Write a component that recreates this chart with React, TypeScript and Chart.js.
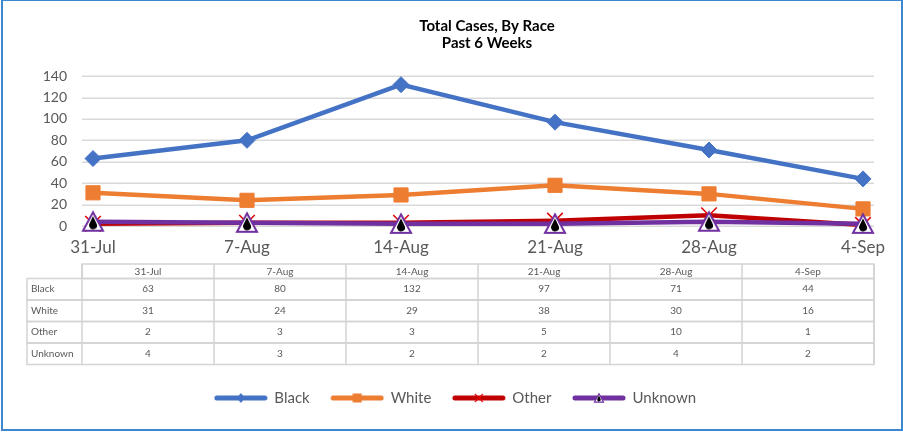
import React, { useEffect, useRef } from "react";
import { Chart, registerables } from "chart.js";

Chart.register(...registerables);

// ---- data ----
const categories = ["31-Jul", "7-Aug", "14-Aug", "21-Aug", "28-Aug", "4-Sep"];
const blackValues = [63, 80, 132, 97, 71, 44];
const whiteValues = [31, 24, 29, 38, 30, 16];
const otherValues = [2, 3, 3, 5, 10, 1];
const unknownValues = [4, 3, 2, 2, 4, 2];
const seriesNames = ["Black", "White", "Other", "Unknown"];
const titleLines = ["Total Cases, By Race", "Past 6 Weeks"];
const yMin = 0;
const yMax = 140;
const yStep = 20;

// ---- styles ----
const BLUE = "#4472C4";
const ORANGE = "#ED7D31";
const RED = "#C00000";
const PURPLE = "#7030A0";
const GREY_TEXT = "#595959";
const GRID = "#D9D9D9";
const FRAME = "#3C87D0";
const FONT = "Lato";
const EXT = 11;

function makeCanvas(w: number, h: number, draw: (ctx: CanvasRenderingContext2D) => void) {
  const c = document.createElement("canvas");
  c.width = w;
  c.height = h;
  const ctx = c.getContext("2d");
  if (ctx) draw(ctx);
  return c;
}

function drawUnknownMarker(ctx: CanvasRenderingContext2D, cx: number, cy: number, s: number, lw: number) {
  ctx.beginPath();
  ctx.moveTo(cx, cy - s * 0.95);
  ctx.lineTo(cx + s, cy + s * 0.9);
  ctx.lineTo(cx - s, cy + s * 0.9);
  ctx.closePath();
  ctx.fillStyle = "#FFFFFF";
  ctx.fill();
  ctx.lineWidth = lw;
  ctx.strokeStyle = PURPLE;
  ctx.stroke();
  // black droplet
  ctx.beginPath();
  ctx.moveTo(cx, cy - s * 0.55);
  ctx.lineTo(cx + s * 0.36, cy + s * 0.2);
  ctx.arc(cx, cy + s * 0.35, s * 0.4, -0.35, Math.PI + 0.35, false);
  ctx.closePath();
  ctx.fillStyle = "#000000";
  ctx.fill();
}

function legendIcon(color: string, kind: string) {
  return makeCanvas(58, 14, (ctx) => {
    ctx.strokeStyle = color;
    ctx.lineWidth = 5;
    ctx.lineCap = "round";
    ctx.beginPath();
    ctx.moveTo(5, 7);
    ctx.lineTo(53, 7);
    ctx.stroke();
    const cx = 29, cy = 7;
    ctx.fillStyle = color;
    if (kind === "diamond") {
      ctx.beginPath();
      ctx.moveTo(cx, cy - 5);
      ctx.lineTo(cx + 4, cy);
      ctx.lineTo(cx, cy + 5);
      ctx.lineTo(cx - 4, cy);
      ctx.closePath();
      ctx.fill();
    } else if (kind === "square") {
      ctx.fillRect(cx - 4.5, cy - 4.5, 9, 9);
    } else if (kind === "cross") {
      ctx.strokeStyle = "#E00000";
      ctx.lineWidth = 1.2;
      ctx.lineCap = "butt";
      ctx.beginPath();
      ctx.moveTo(cx - 4, cy - 4);
      ctx.lineTo(cx + 4, cy + 4);
      ctx.moveTo(cx + 4, cy - 4);
      ctx.lineTo(cx - 4, cy + 4);
      ctx.stroke();
    } else if (kind === "triangle") {
      drawUnknownMarker(ctx, cx, cy, 4.5, 1.2);
    }
  });
}

const decorPlugin = {
  id: "decor",
  afterLayout(chart: any) {
    const ca = chart.chartArea;
    if (chart.titleBlock) {
      chart.titleBlock.left = ca.left - EXT + 18;
      chart.titleBlock.right = ca.right + EXT;
    }
    if (chart.legend) {
      chart.legend.left = 0;
      chart.legend.right = chart.width + 8;
    }
  },
  beforeDatasetsDraw(chart: any) {
    const { ctx, chartArea: ca } = chart;
    const y = chart.scales.y;
    ctx.save();
    ctx.strokeStyle = GRID;
    ctx.lineWidth = 1.5;
    y.ticks.forEach((t: any) => {
      const py = Math.round(y.getPixelForValue(t.value)) + 0.25;
      ctx.beginPath();
      ctx.moveTo(ca.left - EXT, py);
      ctx.lineTo(ca.right + EXT, py);
      ctx.stroke();
    });
    ctx.restore();
  },
  afterDraw(chart: any) {
    const { ctx, chartArea: ca } = chart;
    const left = ca.left - EXT;
    const right = ca.right + EXT;
    const colW = (right - left) / categories.length;
    const labelLeft = 27;
    const top = ca.bottom + 38;
    const headerH = 14.5;
    const rowH = 21.5;
    const rows = [blackValues, whiteValues, otherValues, unknownValues];
    const bottom = top + headerH + rows.length * rowH;

    ctx.save();
    ctx.strokeStyle = "#D4D4D4";
    ctx.lineWidth = 1.5;
    ctx.strokeRect(left, top, right - left, headerH);
    for (let r = 0; r < rows.length; r++) {
      const ry = top + headerH + r * rowH;
      ctx.strokeRect(labelLeft, ry, right - labelLeft, rowH);
    }
    ctx.beginPath();
    for (let c = 0; c <= categories.length; c++) {
      const x = left + c * colW;
      ctx.moveTo(x, top);
      ctx.lineTo(x, bottom);
    }
    ctx.stroke();

    ctx.fillStyle = GREY_TEXT;
    ctx.font = `10px ${FONT}`;
    ctx.textBaseline = "middle";
    ctx.textAlign = "center";
    categories.forEach((cat, c) => {
      ctx.fillText(cat, left + (c + 0.5) * colW, top + headerH / 2 + 0.5);
    });
    rows.forEach((vals, r) => {
      const cy = top + headerH + (r + 0.5) * rowH;
      ctx.textAlign = "left";
      ctx.fillText(seriesNames[r], labelLeft + 4, cy);
      ctx.textAlign = "center";
      vals.forEach((v, c) => {
        ctx.fillText(String(v), left + (c + 0.5) * colW, cy);
      });
    });

    ctx.strokeStyle = FRAME;
    ctx.lineWidth = 2;
    ctx.strokeRect(2, 0, chart.width - 3, chart.height - 3);
    ctx.restore();
  },
};

export default function App() {
  const canvasRef = useRef<HTMLCanvasElement | null>(null);

  useEffect(() => {
    if (!canvasRef.current) return;
    const unknownPoint = makeCanvas(24, 24, (ctx) => drawUnknownMarker(ctx, 12, 12, 10, 2));
    const icons = [
      legendIcon(BLUE, "diamond"),
      legendIcon(ORANGE, "square"),
      legendIcon(RED, "cross"),
      legendIcon(PURPLE, "triangle"),
    ];

    const chart = new Chart(canvasRef.current, {
      type: "line",
      data: {
        labels: categories,
        datasets: [
          {
            label: seriesNames[0],
            data: blackValues,
            borderColor: BLUE,
            backgroundColor: BLUE,
            borderWidth: 4.5,
            pointStyle: "rectRot",
            pointRadius: 8,
            pointBorderWidth: 1,
            pointBackgroundColor: BLUE,
            pointBorderColor: BLUE,
            order: 3,
            clip: false,
          },
          {
            label: seriesNames[1],
            data: whiteValues,
            borderColor: ORANGE,
            backgroundColor: ORANGE,
            borderWidth: 4.5,
            pointStyle: "rect",
            pointRadius: 10,
            pointBorderWidth: 1,
            pointBackgroundColor: ORANGE,
            pointBorderColor: ORANGE,
            order: 2,
            clip: false,
          },
          {
            label: seriesNames[2],
            data: otherValues,
            borderColor: RED,
            backgroundColor: RED,
            borderWidth: 4.5,
            pointStyle: "crossRot",
            pointRadius: 11,
            pointBorderWidth: 1.5,
            pointBorderColor: "#E00000",
            order: 1,
            clip: false,
          },
          {
            label: seriesNames[3],
            data: unknownValues,
            borderColor: PURPLE,
            backgroundColor: PURPLE,
            borderWidth: 4.5,
            pointStyle: unknownPoint as any,
            pointRadius: 10,
            order: 0,
            clip: false,
          },
        ],
      },
      options: {
        animation: false,
        responsive: false,
        devicePixelRatio: 1,
        layout: { padding: { left: 0, right: 40, top: 0, bottom: 17.5 } },
        elements: { line: { tension: 0 } },
        scales: {
          x: {
            type: "category",
            offset: false,
            grid: { display: false, drawTicks: false },
            border: { display: false },
            ticks: {
              font: { family: FONT, size: 17 },
              color: GREY_TEXT,
              padding: 11,
              maxRotation: 0,
              autoSkip: false,
            },
            afterFit: (s: any) => {
              s.height = 143;
            },
          },
          y: {
            min: yMin,
            max: yMax,
            grid: { display: false, drawTicks: false },
            border: { display: false },
            ticks: {
              stepSize: yStep,
              font: { family: FONT, size: 14 },
              color: GREY_TEXT,
              padding: 26,
            },
            afterFit: (s: any) => {
              s.width = 93;
            },
          },
        },
        plugins: {
          tooltip: { enabled: false },
          title: {
            display: true,
            text: titleLines,
            color: "#000000",
            font: { family: FONT, size: 15, weight: "bold", lineHeight: 1.17 },
            padding: { top: 17, bottom: 24 },
          },
          legend: {
            display: true,
            position: "bottom",
            labels: {
              usePointStyle: true,
              pointStyleWidth: 52,
              boxHeight: 14,
              padding: 21.5,
              color: GREY_TEXT,
              font: { family: FONT, size: 15 },
              sort: (a: any, b: any) => a.datasetIndex - b.datasetIndex,
              generateLabels: (ch: any) => {
                const items = (Chart.defaults.plugins.legend.labels as any).generateLabels(ch);
                return items.map((it: any) => ({ ...it, pointStyle: icons[it.datasetIndex] }));
              },
            },
          },
        },
      },
      plugins: [decorPlugin],
    } as any);

    return () => chart.destroy();
  }, []);

  return (
    <div style={{ position: "absolute", left: 0, top: 0, width: 903, height: 433, background: "#fff" }}>
      <canvas ref={canvasRef} width={903} height={433} style={{ width: 903, height: 433, display: "block" }} />
    </div>
  );
}
